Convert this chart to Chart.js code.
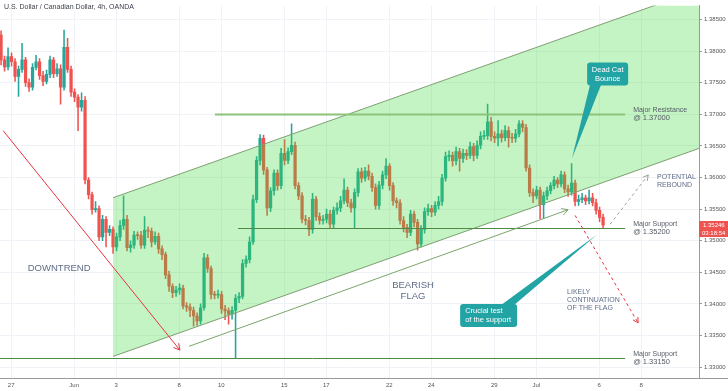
<!DOCTYPE html>
<html>
<head>
<meta charset="utf-8">
<script src="https://cdn.jsdelivr.net/npm/chart.js@4.4.1/dist/chart.umd.min.js"></script>
<style>
  html, body { margin: 0; padding: 0; background: #fff; }
  #wrap { width: 728px; height: 391px; position: relative; }
</style>
</head>
<body>
<div id="wrap"><canvas id="fxChart" width="728" height="391"></canvas></div>
<script>
const chartTitle = 'U.S. Dollar / Canadian Dollar, 4h, OANDA';
const countdown = '03:18:54';

// 4h candles, x = candle index (6 per trading day)
const firstOpen = 1.3825;
const closes = [
  1.3786,1.3775,1.3791,1.3783,1.3760,1.3771,1.3786,1.3750,1.3743,1.3774,
  1.3783,1.3761,1.3752,1.3763,1.3786,1.3764,1.3772,1.3743,1.3806,1.3771,
  1.3735,1.3727,1.3711,1.3722,1.3596,1.3573,1.3549,1.3551,1.3506,1.3534,
  1.3513,1.3518,1.3490,1.3506,1.3524,1.3534,1.3489,1.3493,1.3509,1.3508,
  1.3493,1.3517,1.3515,1.3498,1.3507,1.3487,1.3478,1.3446,1.3428,1.3418,
  1.3422,1.3425,1.3397,1.3395,1.3390,1.3381,1.3373,1.3394,1.3473,1.3456,
  1.3415,1.3414,1.3415,1.3392,1.3389,1.3384,1.3390,1.3409,1.3412,1.3464,
  1.3470,1.3498,1.3565,1.3627,1.3662,1.3612,1.3552,1.3579,1.3607,1.3587,
  1.3638,1.3627,1.3641,1.3651,1.3587,1.3571,1.3534,1.3532,1.3518,1.3566,
  1.3538,1.3532,1.3534,1.3542,1.3526,1.3548,1.3552,1.3563,1.3580,1.3560,
  1.3552,1.3576,1.3609,1.3599,1.3610,1.3602,1.3584,1.3556,1.3588,1.3604,
  1.3618,1.3587,1.3563,1.3560,1.3532,1.3521,1.3513,1.3542,1.3529,1.3495,
  1.3518,1.3546,1.3551,1.3545,1.3556,1.3562,1.3599,1.3633,1.3635,1.3626,
  1.3641,1.3630,1.3638,1.3635,1.3649,1.3635,1.3651,1.3665,1.3666,1.3688,
  1.3665,1.3662,1.3669,1.3663,1.3674,1.3663,1.3662,1.3669,1.3685,1.3679,
  1.3615,1.3576,1.3571,1.3580,1.3557,1.3571,1.3579,1.3587,1.3596,1.3590,
  1.3604,1.3582,1.3577,1.3591,1.3562,1.3565,1.3568,1.3563,1.3568,1.3560,
  1.3548,1.3537,1.35246
];
const highs = [
  1.3832,1.3792,1.3805,1.3797,1.3788,1.3776,1.3812,1.3790,1.3756,1.3780,
  1.3793,1.3788,1.3768,1.3770,1.3792,1.3790,1.3780,1.3778,1.3833,1.3820,
  1.3776,1.3740,1.3731,1.3734,1.3728,1.3600,1.3577,1.3562,1.3555,1.3540,
  1.3538,1.3524,1.3522,1.3512,1.3532,1.3571,1.3540,1.3500,1.3515,1.3514,
  1.3515,1.3538,1.3522,1.3520,1.3514,1.3512,1.3492,1.3482,1.3452,1.3432,
  1.3428,1.3432,1.3430,1.3402,1.3400,1.3395,1.3386,1.3400,1.3480,1.3478,
  1.3460,1.3420,1.3422,1.3420,1.3398,1.3394,1.3396,1.3415,1.3418,1.3470,
  1.3476,1.3506,1.3572,1.3633,1.3668,1.3667,1.3616,1.3584,1.3612,1.3612,
  1.3646,1.3660,1.3647,1.3685,1.3656,1.3592,1.3576,1.3540,1.3537,1.3575,
  1.3570,1.3544,1.3540,1.3550,1.3548,1.3553,1.3560,1.3570,1.3598,1.3585,
  1.3566,1.3582,1.3614,1.3615,1.3616,1.3620,1.3607,1.3590,1.3594,1.3610,
  1.3630,1.3622,1.3592,1.3568,1.3565,1.3538,1.3526,1.3548,1.3547,1.3534,
  1.3524,1.3552,1.3558,1.3556,1.3562,1.3570,1.3605,1.3640,1.3642,1.3640,
  1.3648,1.3646,1.3645,1.3644,1.3656,1.3654,1.3658,1.3672,1.3674,1.3716,
  1.3695,1.3672,1.3690,1.3675,1.3682,1.3680,1.3670,1.3676,1.3690,1.3690,
  1.3684,1.3620,1.3582,1.3586,1.3585,1.3577,1.3585,1.3592,1.3602,1.3600,
  1.3610,1.3609,1.3588,1.3622,1.3596,1.3572,1.3575,1.3572,1.3580,1.3575,
  1.3566,1.3553,1.3542
];
const lows = [
  1.3778,1.3768,1.3770,1.3776,1.3752,1.3728,1.3766,1.3744,1.3736,1.3738,
  1.3770,1.3755,1.3745,1.3748,1.3758,1.3758,1.3760,1.3716,1.3738,1.3766,
  1.3728,1.3720,1.3674,1.3705,1.3590,1.3566,1.3542,1.3545,1.3500,1.3500,
  1.3490,1.3508,1.3480,1.3484,1.3500,1.3518,1.3484,1.3482,1.3488,1.3502,
  1.3488,1.3488,1.3505,1.3490,1.3494,1.3480,1.3470,1.3440,1.3420,1.3410,
  1.3412,1.3415,1.3392,1.3388,1.3380,1.3365,1.3366,1.3368,1.3390,1.3450,
  1.3408,1.3408,1.3409,1.3385,1.3375,1.3368,1.3376,1.3314,1.3402,1.3408,
  1.3458,1.3465,1.3494,1.3560,1.3620,1.3605,1.3540,1.3546,1.3572,1.3580,
  1.3582,1.3620,1.3622,1.3636,1.3582,1.3565,1.3528,1.3525,1.3508,1.3512,
  1.3532,1.3526,1.3526,1.3528,1.3520,1.3520,1.3542,1.3546,1.3558,1.3554,
  1.3545,1.3520,1.3570,1.3592,1.3594,1.3596,1.3578,1.3550,1.3550,1.3582,
  1.3598,1.3580,1.3556,1.3552,1.3526,1.3514,1.3505,1.3508,1.3522,1.3485,
  1.3490,1.3512,1.3540,1.3538,1.3540,1.3550,1.3556,1.3594,1.3626,1.3618,
  1.3620,1.3610,1.3624,1.3628,1.3630,1.3626,1.3630,1.3645,1.3660,1.3660,
  1.3658,1.3655,1.3650,1.3656,1.3658,1.3648,1.3655,1.3656,1.3664,1.3672,
  1.3610,1.3570,1.3560,1.3566,1.3535,1.3535,1.3565,1.3574,1.3582,1.3584,
  1.3585,1.3576,1.3570,1.3572,1.3555,1.3556,1.3560,1.3557,1.3558,1.3555,
  1.3542,1.3530,1.3520
];

// x axis day labels (candle-index positions)
const dayTickPos = [2.9, 20.9, 32.9, 50.9, 62.9, 80.9, 92.9, 110.9, 122.9, 140.9, 152.9, 170.9, 182.9];
const dayTickLabels = ['27', 'Jun', '3', '8', '10', '15', '17', '22', '24', '29', 'Jul', '6', '8'];
const xRange = [-0.3, 199.4];
const yRange = [1.32829, 1.38718];

// drawing annotations, in data units
const channelTop = [{ x: 32, y: 1.3568 }, { x: 199.4, y: 1.3897 }];
const channelBottom = [{ x: 32, y: 1.3317 }, { x: 199.4, y: 1.3646 }];
const flagGuide = [[53.7, 1.3333], [162, 1.3549]];
const downtrendArrow = [[0.6, 1.3674], [51.1, 1.3327]];
const continuationArrow = [[164, 1.3540], [182, 1.3370]];
const reboundArrow = [[174, 1.3526], [184.9, 1.3604]];
const levels = [
  { value: 1.3700, from: 61.1, to: 178.3, color: '#8cc47a', width: 2, text: ['Major Resistance', '@ 1.37000'] },
  { value: 1.3520, from: 67.7, to: 178.3, color: '#4f8a44', width: 1, text: ['Major Support', '@ 1.35200'] },
  { value: 1.3315, from: -0.3, to: 178.3, color: '#4f8a44', width: 1, text: ['Major Support', '@ 1.33150'] }
];
const notes = [
  { lines: ['DOWNTREND'], x: 16.6, y: 1.3457, size: 9.5, align: 'center', color: '#5f6d86' },
  { lines: ['BEARISH', 'FLAG'], x: 117.7, y: 1.3420, size: 9.5, align: 'center', color: '#5f6d86' },
  { lines: ['LIKELY', 'CONTINUATION', 'OF THE FLAG'], x: 161.7, y: 1.3406, size: 7, align: 'left', color: '#5f6d86' },
  { lines: ['POTENTIAL', 'REBOUND'], x: 187.4, y: 1.3594, size: 7, align: 'left', color: '#5f6d86' }
];
const callouts = [
  { lines: ['Dead Cat', 'Bounce'], x: 173.3, y: 1.37635, w: 41, h: 23, tip: [163.1, 1.3630], side: 'bottom', align: 'center' },
  { lines: ['Crucial test', 'of the support'], x: 139.3, y: 1.33818, w: 57, h: 23, tip: [170.3, 1.3510], side: 'top', align: 'left' }
];

const upColor = '#26a69a';
const downColor = '#ef5350';
const FONT = '"Liberation Sans", Arial, sans-serif';

const opens = closes.map((c, i) => (i === 0 ? firstOpen : closes[i - 1]));
const candleColors = closes.map((c, i) => (c >= opens[i] ? upColor : downColor));

function arrowHead(ctx, x1, y1, x2, y2, size) {
  const a = Math.atan2(y2 - y1, x2 - x1);
  ctx.beginPath();
  ctx.moveTo(x2 - size * Math.cos(a - 0.5), y2 - size * Math.sin(a - 0.5));
  ctx.lineTo(x2, y2);
  ctx.lineTo(x2 - size * Math.cos(a + 0.5), y2 - size * Math.sin(a + 0.5));
  ctx.stroke();
}

const overlay = {
  id: 'overlay',
  afterDatasetsDraw(chart) {
    const { ctx, scales: { x, y }, chartArea } = chart;
    const px = v => x.getPixelForValue(v);
    const py = v => y.getPixelForValue(v);
    ctx.save();
    ctx.beginPath();
    ctx.rect(chartArea.left, chartArea.top, chartArea.width, chartArea.height);
    ctx.clip();

    // horizontal levels
    levels.forEach(l => {
      ctx.strokeStyle = l.color;
      ctx.lineWidth = l.width;
      ctx.beginPath();
      ctx.moveTo(px(l.from), Math.round(py(l.value)) + 0.5);
      ctx.lineTo(px(l.to), Math.round(py(l.value)) + 0.5);
      ctx.stroke();
      ctx.fillStyle = '#555b66';
      ctx.font = '7px ' + FONT;
      ctx.textAlign = 'left';
      ctx.textBaseline = 'middle';
      ctx.fillText(l.text[0], px(l.to) + 8, py(l.value) - 4);
      ctx.font = '7.5px ' + FONT;
      ctx.fillText(l.text[1], px(l.to) + 8, py(l.value) + 4);
    });

    // flag guide
    ctx.strokeStyle = '#7aa56a';
    ctx.lineWidth = 1;
    let [a, b] = flagGuide;
    ctx.beginPath();
    ctx.moveTo(px(a[0]), py(a[1]));
    ctx.lineTo(px(b[0]), py(b[1]));
    ctx.stroke();
    arrowHead(ctx, px(a[0]), py(a[1]), px(b[0]), py(b[1]), 7);

    // downtrend arrow
    ctx.strokeStyle = '#e8343f';
    [a, b] = downtrendArrow;
    ctx.beginPath();
    ctx.moveTo(px(a[0]), py(a[1]));
    ctx.lineTo(px(b[0]), py(b[1]));
    ctx.stroke();
    arrowHead(ctx, px(a[0]), py(a[1]), px(b[0]), py(b[1]), 7);

    // dashed arrows
    [[continuationArrow, '#e8343f'], [reboundArrow, '#a0a0a0']].forEach(([seg, col]) => {
      const [p, q] = seg;
      ctx.strokeStyle = col;
      ctx.setLineDash([3, 3]);
      ctx.beginPath();
      ctx.moveTo(px(p[0]), py(p[1]));
      ctx.lineTo(px(q[0]), py(q[1]));
      ctx.stroke();
      ctx.setLineDash([]);
      arrowHead(ctx, px(p[0]), py(p[1]), px(q[0]), py(q[1]), 6);
    });

    // text notes
    notes.forEach(n => {
      ctx.fillStyle = n.color;
      ctx.font = n.size + 'px ' + FONT;
      ctx.textAlign = n.align;
      ctx.textBaseline = 'middle';
      const lh = n.size * 1.15;
      const y0 = py(n.y) - (n.lines.length - 1) * lh / 2;
      n.lines.forEach((t, k) => ctx.fillText(t, px(n.x), y0 + k * lh));
    });

    // callouts
    callouts.forEach(c => {
      const cx = px(c.x), cy = py(c.y);
      const left = cx - c.w / 2, top = cy - c.h / 2;
      const tx = px(c.tip[0]), ty = py(c.tip[1]);
      ctx.fillStyle = '#22a3a4';
      ctx.beginPath();
      if (c.side === 'bottom') {
        ctx.moveTo(left + 3, top + c.h - 1);
        ctx.lineTo(left + 14, top + c.h - 1);
      } else {
        ctx.moveTo(left + c.w - 16, top + 1);
        ctx.lineTo(left + c.w - 3, top + 1);
      }
      ctx.lineTo(tx, ty);
      ctx.closePath();
      ctx.fill();
      ctx.beginPath();
      ctx.roundRect(left, top, c.w, c.h, 3);
      ctx.fill();
      ctx.fillStyle = '#ffffff';
      ctx.font = '7.5px ' + FONT;
      ctx.textBaseline = 'middle';
      ctx.textAlign = c.align;
      const tx0 = c.align === 'center' ? cx : left + 5;
      ctx.fillText(c.lines[0], tx0, cy - 4.5);
      ctx.fillText(c.lines[1], tx0, cy + 4.5);
    });
    ctx.restore();
  },
  afterDraw(chart) {
    const { ctx, scales: { y }, chartArea } = chart;
    ctx.save();
    ctx.fillStyle = '#3b3f48';
    ctx.font = '7px ' + FONT;
    ctx.textAlign = 'left';
    ctx.textBaseline = 'middle';
    ctx.fillText(chartTitle, 4, 7);

    // extend bottom axis line under price scale
    ctx.strokeStyle = '#9a9a9a';
    ctx.lineWidth = 1;
    ctx.beginPath();
    ctx.moveTo(chartArea.right, chartArea.bottom + 0.5);
    ctx.lineTo(chart.width, chartArea.bottom + 0.5);
    ctx.stroke();

    // last price tag
    const last = closes[closes.length - 1];
    const ly = Math.round(y.getPixelForValue(last));
    ctx.fillStyle = downColor;
    ctx.fillRect(chartArea.right, ly - 4, chart.width - chartArea.right, 16);
    ctx.fillStyle = '#ffffff';
    ctx.font = '6px ' + FONT;
    ctx.fillText(last.toFixed(5), chartArea.right + 4, ly);
    ctx.fillText(countdown, chartArea.right + 3, ly + 8);
    ctx.restore();
  }
};

new Chart(document.getElementById('fxChart').getContext('2d'), {
  type: 'bar',
  data: {
    datasets: [
      {
        type: 'line',
        data: channelTop,
        borderColor: '#7f9f72',
        borderWidth: 1,
        pointRadius: 0,
        fill: false,
        order: 0
      },
      {
        type: 'line',
        data: channelBottom,
        borderColor: '#7f9f72',
        borderWidth: 1,
        pointRadius: 0,
        fill: '-1',
        backgroundColor: 'rgba(60, 220, 60, 0.3)',
        order: 0
      },
      {
        label: 'bodies',
        data: closes.map((c, i) => ({ x: i, y: [opens[i], c] })),
        backgroundColor: candleColors,
        barThickness: 2.6,
        minBarLength: 1,
        grouped: false,
        order: 1
      },
      {
        label: 'wicks',
        data: closes.map((c, i) => ({ x: i, y: [lows[i], highs[i]] })),
        backgroundColor: candleColors,
        barThickness: 0.9,
        grouped: false,
        order: 2
      }
    ]
  },
  options: {
    responsive: false,
    animation: false,
    devicePixelRatio: 1,
    layout: { padding: 0 },
    plugins: { legend: { display: false }, tooltip: { enabled: false }, title: { display: false } },
    scales: {
      x: {
        type: 'linear',
        offset: false,
        min: xRange[0],
        max: xRange[1],
        grid: { color: '#eff2f7', offset: false, drawTicks: false },
        border: { color: '#9a9a9a' },
        afterBuildTicks: s => { s.ticks = dayTickPos.map(v => ({ value: v })); },
        afterFit: s => { s.height = 13; },
        ticks: {
          autoSkip: false,
          maxRotation: 0,
          padding: 4,
          color: '#555',
          font: { size: 6, family: FONT },
          callback: (v, idx) => dayTickLabels[idx]
        }
      },
      y: {
        position: 'right',
        min: yRange[0],
        max: yRange[1],
        grid: { color: '#eff2f7', tickColor: '#999', tickLength: 3 },
        border: { color: '#9a9a9a' },
        afterFit: s => { s.width = 29; },
        ticks: {
          stepSize: 0.005,
          includeBounds: false,
          padding: 2,
          color: '#555',
          font: { size: 6, family: FONT },
          callback: v => v.toFixed(5)
        }
      }
    }
  },
  plugins: [overlay]
});
</script>
</body>
</html>
